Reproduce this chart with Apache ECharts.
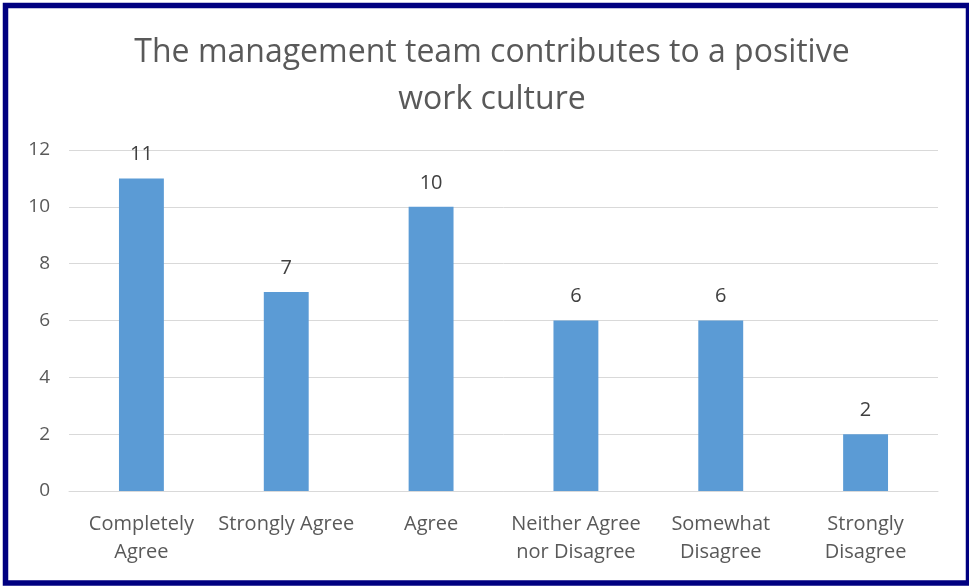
<!DOCTYPE html>
<html>
<head>
<meta charset="utf-8">
<script src="https://cdn.jsdelivr.net/npm/echarts@6/dist/echarts.min.js"></script>
<style>
  html, body { margin: 0; padding: 0; background: #ffffff; }
  #chart { width: 969px; height: 586px; }
</style>
</head>
<body>
<div id="chart"></div>
<script>
// Survey responses: "The management team contributes to a positive work culture"
const categories = [
  'Completely\nAgree',
  'Strongly Agree',
  'Agree',
  'Neither Agree\nnor Disagree',
  'Somewhat\nDisagree',
  'Strongly\nDisagree'
];
const responses = [11, 7, 10, 6, 6, 2];
const yTicks = { min: 0, max: 12, interval: 2 };
const titleLines = ['The management team contributes to a positive', 'work culture'];

const FONT = 'Open Sans, sans-serif';
const chart = echarts.init(document.getElementById('chart'), null, { renderer: 'canvas' });

chart.setOption({
  backgroundColor: '#ffffff',
  animation: false,
  title: {
    text: titleLines.join('\n'),
    left: 487,
    top: 24,
    textAlign: 'center',
    textStyle: {
      fontFamily: FONT,
      fontSize: 32,
      fontWeight: 'normal',
      color: '#595959',
      lineHeight: 47
    }
  },
  grid: { left: 69, right: 31, top: 150, bottom: 95, containLabel: false },
  xAxis: {
    type: 'category',
    data: categories,
    axisLine: { show: true, lineStyle: { color: '#d9d9d9', width: 1 } },
    axisTick: { show: false },
    axisLabel: {
      interval: 0,
      margin: 19,
      fontFamily: FONT,
      fontSize: 20,
      color: '#595959',
      lineHeight: 28
    }
  },
  yAxis: {
    type: 'value',
    min: yTicks.min,
    max: yTicks.max,
    interval: yTicks.interval,
    axisLine: { show: false },
    axisTick: { show: false },
    splitLine: { lineStyle: { color: '#d9d9d9', width: 1 } },
    axisLabel: {
      margin: 19,
      fontFamily: FONT,
      fontSize: 19,
      color: '#595959'
    }
  },
  series: [{
    type: 'bar',
    data: responses,
    barWidth: '31%',
    itemStyle: { color: '#5b9bd5' },
    label: {
      show: true,
      position: 'top',
      distance: 14,
      fontFamily: FONT,
      fontSize: 20,
      color: '#404040'
    }
  }],
  graphic: [{
    type: 'rect',
    silent: true,
    z: 100,
    shape: { x: 5.5, y: 5.5, width: 963, height: 577.5 },
    style: { fill: 'none', stroke: '#000080', lineWidth: 5.5 }
  }]
});
</script>
</body>
</html>
